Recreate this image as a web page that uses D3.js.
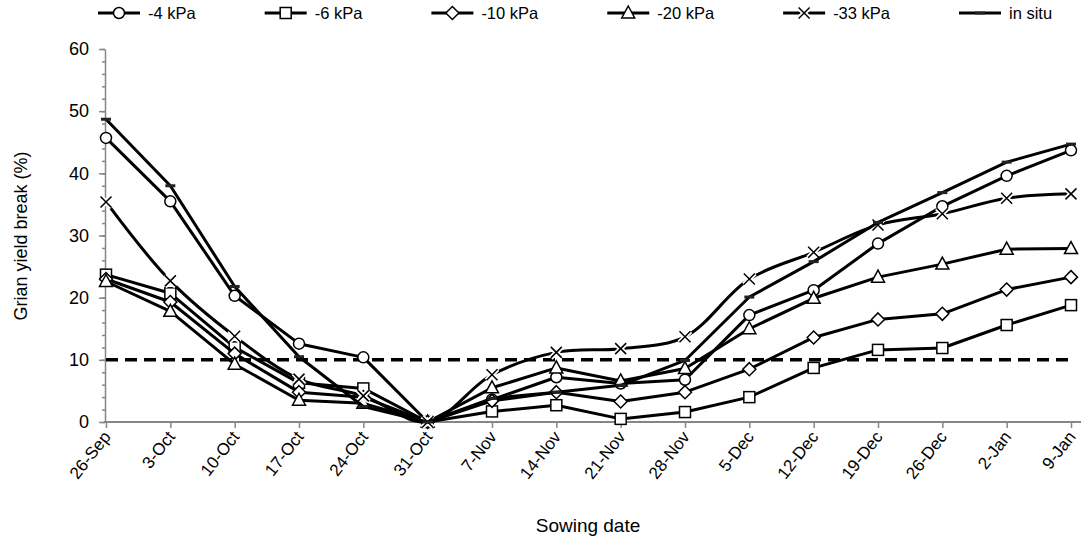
<!DOCTYPE html>
<html lang='en'>
<head>
<meta charset='utf-8'>
<title>Grain yield break by sowing date</title>
<script src='https://cdn.jsdelivr.net/npm/d3@7/dist/d3.min.js'></script>
<style>
  body { margin: 0; background: #fff; }
  text { font-family: 'Liberation Sans', Arial, sans-serif; fill: #000; }
</style>
</head>
<body>
<script>
// sowing dates (weekly)
var dates = ['26-Sep','3-Oct','10-Oct','17-Oct','24-Oct','31-Oct','7-Nov','14-Nov',
             '21-Nov','28-Nov','5-Dec','12-Dec','19-Dec','26-Dec','2-Jan','9-Jan'];
var yTicks = [0, 10, 20, 30, 40, 50, 60];
var threshold = 10;

// grain yield break (%) per treatment
var kPa4   = [45.7, 35.5, 20.3, 12.6, 10.4, 0, 3.6, 7.2, 6.2, 6.8, 17.2, 21.2, 28.7, 34.7, 39.6, 43.7];
var kPa6   = [23.7, 20.7, 12.0, 6.3, 5.4, 0, 1.7, 2.7, 0.5, 1.6, 4.0, 8.7, 11.6, 11.9, 15.6, 18.8];
var kPa10  = [23.0, 19.3, 11.0, 4.8, 4.0, 0, 3.4, 4.8, 3.3, 4.8, 8.5, 13.6, 16.5, 17.4, 21.3, 23.3];
var kPa20  = [22.6, 17.8, 9.3, 3.5, 3.0, 0, 5.5, 8.7, 6.6, 8.6, 15.0, 19.9, 23.3, 25.4, 27.8, 27.9];
var kPa33  = [35.4, 22.7, 13.8, 6.9, 4.2, 0, 7.6, 11.2, 11.8, 13.7, 23.0, 27.3, 31.7, 33.5, 36.0, 36.7];
var inSitu = [48.7, 38.0, 21.8, 10.5, 2.5, 0, 3.8, 4.8, 5.9, 9.9, 20.1, 25.8, 32.1, 36.9, 41.8, 44.7];

var series = [
  {name: '-4 kPa',  values: kPa4,   marker: 'circle'},
  {name: '-6 kPa',  values: kPa6,   marker: 'square'},
  {name: '-10 kPa', values: kPa10,  marker: 'diamond'},
  {name: '-20 kPa', values: kPa20,  marker: 'triangle'},
  {name: '-33 kPa', values: kPa33,  marker: 'cross', smooth: true},
  {name: 'in situ', values: inSitu, marker: 'dash'}
];

var w = 1082, h = 539;
var axisColor = '#868686';

var svg = d3.select('body').append('svg')
  .attr('width', w)
  .attr('height', h);

var x = d3.scalePoint().domain(dates).range([106, 1071]);
var y = d3.scaleLinear().domain([0, 60]).range([422, 49]);

// y axis: minor ticks every 2, major every 10
svg.append('g')
  .attr('transform', 'translate(105,0)')
  .call(d3.axisLeft(y).tickValues(d3.range(0, 61, 2)).tickSize(3).tickFormat(''))
  .call(function(g){
    g.select('.domain').remove();
    g.selectAll('line').attr('stroke', axisColor).attr('stroke-width', 1.5);
  });

svg.append('g')
  .attr('transform', 'translate(105,0)')
  .call(d3.axisLeft(y).tickValues(yTicks).tickSize(6).tickSizeOuter(0).tickPadding(10))
  .call(function(g){
    g.select('.domain').attr('stroke', axisColor).attr('stroke-width', 1.5);
    g.selectAll('line').attr('stroke', axisColor).attr('stroke-width', 1.5);
    g.selectAll('text').attr('font-size', '18px').attr('font-family', null);
  });

// x axis
svg.append('g')
  .attr('transform', 'translate(0,422)')
  .call(d3.axisBottom(x).tickSize(6).tickSizeOuter(0))
  .call(function(g){
    g.select('.domain').attr('d', 'M104,0H1081').attr('stroke', axisColor).attr('stroke-width', 2);
    g.selectAll('line').attr('stroke', axisColor).attr('stroke-width', 1.5);
    g.selectAll('text')
      .attr('font-size', '17px')
      .attr('font-family', null)
      .attr('text-anchor', 'end')
      .attr('dy', null)
      .attr('y', 0)
      .attr('transform', 'translate(5,15) rotate(-52)');
  });

// axis titles
svg.append('text')
  .attr('x', 588).attr('y', 532)
  .attr('text-anchor', 'middle')
  .attr('font-size', '19px')
  .text('Sowing date');

svg.append('text')
  .attr('transform', 'translate(27,236) rotate(-90)')
  .attr('text-anchor', 'middle')
  .attr('font-size', '18px')
  .text('Grian yield break (%)');

// 10% reference line
svg.append('line')
  .attr('x1', x(dates[0])).attr('x2', x(dates[dates.length - 1]))
  .attr('y1', y(threshold)).attr('y2', y(threshold))
  .attr('stroke', '#000')
  .attr('stroke-width', 3.5)
  .attr('stroke-dasharray', '12,7');

function drawMarker(g, type) {
  if (type === 'circle') {
    g.append('circle').attr('r', 5.5)
      .attr('fill', '#fff').attr('stroke', '#000').attr('stroke-width', 1.5);
  } else if (type === 'square') {
    g.append('rect').attr('x', -5.5).attr('y', -5.5).attr('width', 11).attr('height', 11)
      .attr('fill', '#fff').attr('stroke', '#000').attr('stroke-width', 1.5);
  } else if (type === 'diamond') {
    g.append('path').attr('d', 'M0,-6.5L6.5,0L0,6.5L-6.5,0Z')
      .attr('fill', '#fff').attr('stroke', '#000').attr('stroke-width', 1.5);
  } else if (type === 'triangle') {
    g.append('path').attr('d', 'M0,-7L6.5,5L-6.5,5Z')
      .attr('fill', '#fff').attr('stroke', '#000').attr('stroke-width', 1.5);
  } else if (type === 'cross') {
    g.append('path').attr('d', 'M-5.5,-5.5L5.5,5.5M-5.5,5.5L5.5,-5.5')
      .attr('stroke', '#fff').attr('stroke-width', 5);
    g.append('path').attr('d', 'M-5.5,-5.5L5.5,5.5M-5.5,5.5L5.5,-5.5')
      .attr('stroke', '#000').attr('stroke-width', 1.5);
  } else if (type === 'dash') {
    g.append('rect').attr('x', -5).attr('y', -1.5).attr('width', 10).attr('height', 3)
      .attr('fill', '#222');
  }
}

// series
series.forEach(function(s){
  var line = d3.line()
    .x(function(d, i){ return x(dates[i]); })
    .y(function(d){ return y(d); })
    .curve(s.smooth ? d3.curveCatmullRom : d3.curveLinear);

  var g = svg.append('g');
  g.append('path')
    .datum(s.values)
    .attr('d', line)
    .attr('fill', 'none')
    .attr('stroke', '#000')
    .attr('stroke-width', 3)
    .attr('stroke-linejoin', 'round');

  g.selectAll('g.pt')
    .data(s.values)
    .enter()
    .append('g')
    .attr('class', 'pt')
    .attr('transform', function(d, i){ return 'translate(' + x(dates[i]) + ',' + y(d) + ')'; })
    .each(function(){ drawMarker(d3.select(this), s.marker); });
});

// legend
var legend = svg.append('g').attr('transform', 'translate(0,13)');
var lx = 98;
series.forEach(function(s){
  var item = legend.append('g').attr('transform', 'translate(' + lx + ',0)');
  item.append('line')
    .attr('x1', 0).attr('x2', 42)
    .attr('stroke', '#000').attr('stroke-width', 3);
  drawMarker(item.append('g').attr('transform', 'translate(21,0)'), s.marker);
  var t = item.append('text')
    .attr('x', 50).attr('y', 6)
    .attr('font-size', '16.5px')
    .text(s.name);
  lx += 50 + t.node().getComputedTextLength() + 69;
});
</script>
</body>
</html>
